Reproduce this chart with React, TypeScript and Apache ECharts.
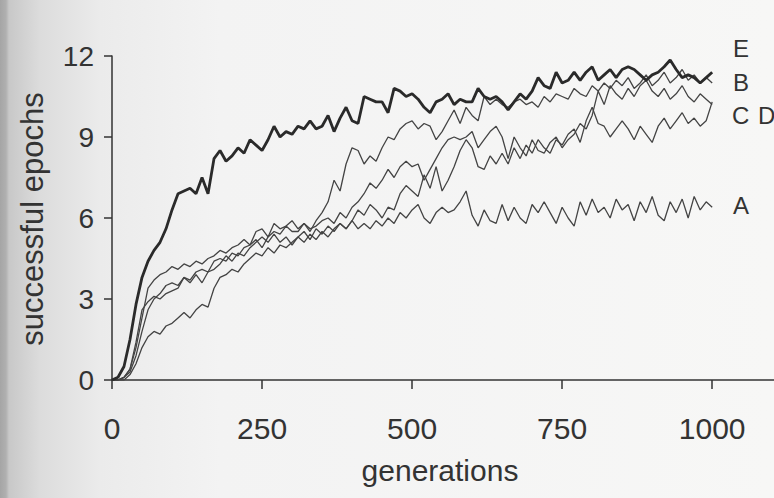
import React, { useEffect, useRef } from "react";
import * as echarts from "echarts";

// generation step between sampled points
const STEP = 10;

const xTicks = [0, 250, 500, 750, 1000];
const yTicks = [0, 3, 6, 9, 12];

const seriesE = [
  0, 0.1, 0.5, 1.5, 2.8, 3.8, 4.4, 4.8, 5.1, 5.6,
  6.3, 6.9, 7.0, 7.1, 6.9, 7.5, 6.9, 8.2, 8.5, 8.1,
  8.3, 8.6, 8.4, 8.9, 8.7, 8.5, 8.9, 9.4, 9.0, 9.2,
  9.1, 9.4, 9.3, 9.6, 9.3, 9.4, 9.8, 9.2, 9.7, 10.1,
  9.6, 9.5, 10.5, 10.4, 10.3, 10.3, 9.9, 10.8, 10.7, 10.5,
  10.6, 10.4, 10.1, 9.9, 10.3, 10.4, 10.6, 10.2, 10.4, 10.3,
  10.3, 10.8, 10.5, 10.4, 10.5, 10.3, 10.0, 10.3, 10.6, 10.4,
  10.7, 11.2, 10.9, 10.8, 11.4, 11.0, 11.1, 11.4, 11.1, 11.4,
  11.6, 11.1, 11.3, 11.5, 11.2, 11.5, 11.6, 11.5, 11.3, 11.1,
  11.3, 11.4, 11.6, 11.85, 11.5, 11.2, 11.3, 11.2, 11.0, 11.2,
  11.4,
];

const seriesB = [
  0, 0, 0.1, 0.4, 1.2, 2.3, 3.4, 3.7, 3.9, 4.0,
  4.2, 4.1, 4.3, 4.2, 4.4, 4.3, 4.5, 4.6, 4.8, 4.7,
  4.9, 5.0, 5.2, 5.0, 5.5, 5.6, 5.3, 5.8, 5.6, 5.7,
  5.9, 5.6, 5.8, 5.5, 5.9, 6.2, 6.6, 7.4, 7.0, 8.0,
  8.6, 8.5, 8.0, 8.3, 8.1, 8.6, 9.0, 8.9, 9.3, 9.5,
  9.6, 9.3, 9.5, 9.4, 8.9, 9.2, 9.6, 10.0, 9.5, 10.1,
  9.8, 9.6, 10.5, 10.2, 10.4, 10.2, 10.1, 10.3, 10.4, 10.2,
  10.3, 10.1, 10.5, 10.3, 10.6, 10.5, 10.4, 10.8, 10.6, 10.5,
  10.9, 10.7, 11.0, 10.8, 11.1, 10.9, 11.2, 10.8, 11.0, 11.3,
  10.9, 11.1, 11.4, 11.0, 11.2, 11.5, 11.1, 11.3, 11.0, 11.2,
  11.0,
];

const seriesC = [
  0, 0, 0.1, 0.3, 0.9, 1.8, 2.6, 3.0, 3.2, 3.5,
  3.6, 3.5, 3.8, 3.7, 4.0, 4.1, 4.0, 4.4, 4.5, 4.4,
  4.7, 4.6, 4.9, 5.0, 5.2, 4.9, 5.3, 5.5, 5.4, 5.7,
  5.5, 5.5, 5.8, 5.6, 5.7, 5.9, 6.0, 5.8, 6.2, 6.0,
  6.4, 6.6, 6.9, 7.3, 7.1, 7.4, 7.8, 7.5, 7.9, 8.1,
  7.9, 8.0, 7.4, 7.8, 8.2, 8.6, 8.9, 9.0, 8.9, 9.0,
  9.2, 8.6, 8.9, 9.2, 9.4, 9.0, 8.2, 9.0, 8.6, 8.3,
  8.9, 8.5, 8.4, 8.8, 9.0, 8.6, 8.9, 9.1, 9.5, 9.3,
  9.8, 10.7, 10.2, 10.9, 10.6, 10.4, 10.8, 10.5, 10.9, 11.1,
  10.7, 10.5, 10.8, 10.4, 10.6, 10.9, 10.5, 10.3, 10.6, 10.4,
  10.2,
];

const seriesD = [
  0, 0, 0, 0.2, 0.6, 1.2, 1.6, 1.8, 1.7, 2.0,
  2.1, 2.3, 2.5, 2.3, 2.6, 2.8, 2.7, 3.4, 3.8, 3.9,
  4.1, 4.0, 4.3, 4.5, 4.7, 4.6, 4.9, 4.7, 5.0, 4.9,
  5.1, 5.3, 5.1, 5.4, 5.2, 5.5, 5.3, 5.6, 5.8, 5.6,
  5.9, 6.3, 6.1, 6.5, 6.3, 6.0, 6.4, 6.3, 6.9, 7.2,
  7.0, 6.8, 7.6, 7.1, 7.9, 7.0, 7.4, 7.9, 8.5, 8.9,
  8.6, 7.9, 7.8, 8.3, 8.0, 8.4, 8.0, 8.6, 8.2, 8.7,
  8.4, 8.9, 8.6, 8.4, 8.9, 8.7, 9.1, 9.3, 8.8, 9.6,
  10.1, 9.5, 9.4, 9.0, 9.3, 9.6, 9.3, 8.9, 9.4, 9.1,
  8.8, 9.4, 9.7, 9.3, 9.6, 9.9, 9.5, 9.7, 9.4, 9.6,
  10.3,
];

const seriesA = [
  0, 0, 0.1, 0.4, 1.4, 2.6, 2.9, 3.1, 3.0, 3.2,
  3.3, 3.4, 3.8, 3.6, 3.9, 3.6, 4.0, 4.1, 4.3, 4.6,
  4.4, 4.7, 4.6, 4.9, 5.1, 5.3, 5.1, 5.4, 5.1, 5.3,
  5.0, 5.3, 5.5, 5.2, 5.6, 5.4, 5.7, 5.5, 5.8, 5.6,
  5.9, 5.6, 5.8, 5.6, 5.9, 5.7, 6.0, 5.8, 6.2, 6.0,
  6.3, 6.5, 6.0, 5.8, 6.2, 6.4, 6.2, 6.3, 6.6, 7.0,
  6.1, 5.7, 6.3, 5.9, 5.8, 6.5, 5.9, 6.4, 6.0, 5.8,
  6.5, 6.2, 6.6, 6.2, 5.8, 6.4, 6.0, 5.7, 6.6, 6.1,
  6.7, 6.2, 6.4, 6.0, 6.7, 6.3, 6.5, 5.9, 6.6, 6.2,
  6.8, 6.1, 5.9, 6.6, 6.2, 6.7, 6.0, 6.8, 6.3, 6.6,
  6.4,
];

const seriesNames = ["A", "B", "C", "D", "E"];

const FONT = "'Liberation Sans', Arial, Helvetica, sans-serif";
const INK = "#333333";

function toPairs(values: number[]) {
  return values.map((v, i) => [i * STEP, v]);
}

export default function App() {
  const ref = useRef<HTMLDivElement>(null);

  useEffect(() => {
    if (!ref.current) return;
    const chart = echarts.init(ref.current, null, { renderer: "svg" });
    const thin = { color: "#444444", width: 1.3 };
    const option: any = {
      animation: false,
      backgroundColor: "transparent",
      grid: { left: 112, right: 0, top: 56, bottom: 118 },
      xAxis: {
        type: "value",
        min: 0,
        max: 1103,
        interval: 250,
        splitLine: { show: false },
        axisLine: { show: true, onZero: false, lineStyle: { color: INK, width: 1.5 } },
        axisTick: { show: true, length: 9, customValues: xTicks, lineStyle: { color: INK, width: 1.5 } },
        axisLabel: {
          customValues: xTicks,
          formatter: (v: number) => String(v),
          margin: 33,
          fontSize: 30,
          color: INK,
          fontFamily: FONT,
        },
      },
      yAxis: {
        type: "value",
        min: 0,
        max: 12,
        interval: 3,
        splitLine: { show: false },
        axisLine: { show: true, lineStyle: { color: INK, width: 1.5 } },
        axisTick: { show: true, length: 8, lineStyle: { color: INK, width: 1.5 } },
        axisLabel: {
          formatter: (v: number) => String(v),
          margin: 18,
          fontSize: 28,
          color: INK,
          fontFamily: FONT,
        },
      },
      series: [
        { name: seriesNames[0], type: "line", data: toPairs(seriesA), symbol: "none", lineStyle: thin },
        { name: seriesNames[1], type: "line", data: toPairs(seriesB), symbol: "none", lineStyle: thin },
        { name: seriesNames[2], type: "line", data: toPairs(seriesC), symbol: "none", lineStyle: thin },
        { name: seriesNames[3], type: "line", data: toPairs(seriesD), symbol: "none", lineStyle: thin },
        {
          name: seriesNames[4],
          type: "line",
          data: toPairs(seriesE),
          symbol: "none",
          lineStyle: { color: "#2a2a2a", width: 2.8 },
        },
      ],
      graphic: [
        {
          type: "text",
          x: 32,
          y: 219,
          rotation: Math.PI / 2,
          style: {
            text: "successful epochs",
            fontSize: 31,
            fontFamily: FONT,
            fill: INK,
            align: "center",
            verticalAlign: "middle",
          },
        },
        {
          type: "text",
          x: 440,
          y: 470,
          style: {
            text: "generations",
            fontSize: 30,
            fontFamily: FONT,
            fill: INK,
            align: "center",
            verticalAlign: "middle",
          },
        },
        { type: "text", x: 733, y: 48, style: { text: "E", fontSize: 24, fontFamily: FONT, fill: INK, verticalAlign: "middle" } },
        { type: "text", x: 733, y: 82, style: { text: "B", fontSize: 24, fontFamily: FONT, fill: INK, verticalAlign: "middle" } },
        { type: "text", x: 732, y: 115, style: { text: "C", fontSize: 24, fontFamily: FONT, fill: INK, verticalAlign: "middle" } },
        { type: "text", x: 758, y: 115, style: { text: "D", fontSize: 24, fontFamily: FONT, fill: INK, verticalAlign: "middle" } },
        { type: "text", x: 733, y: 205, style: { text: "A", fontSize: 24, fontFamily: FONT, fill: INK, verticalAlign: "middle" } },
      ],
    };
    chart.setOption(option);
    return () => chart.dispose();
  }, []);

  return (
    <div
      style={{
        position: "fixed",
        left: 0,
        top: 0,
        width: 774,
        height: 498,
        background:
          "linear-gradient(to right, #a5a5a5 0px, #b0b0b0 6px, #c8c8c8 9px, #dcdcdc 40px, #ebebeb 100px, #f3f3f3 220px, #f7f7f6 100%)",
      }}
    >
      <div ref={ref} style={{ width: 774, height: 498 }} />
    </div>
  );
}
